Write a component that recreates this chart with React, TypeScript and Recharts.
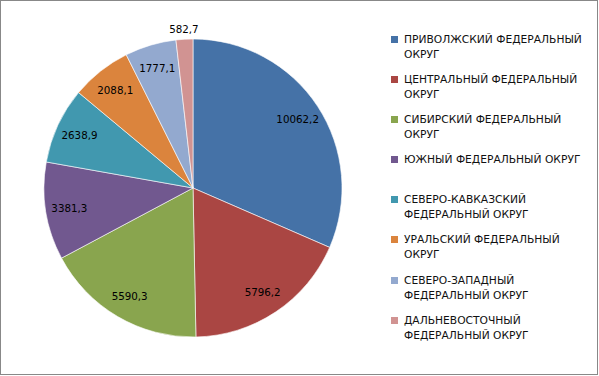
import React from 'react';
import { PieChart, Pie, Cell, Legend } from 'recharts';

const districts = [
  'ПРИВОЛЖСКИЙ ФЕДЕРАЛЬНЫЙ ОКРУГ',
  'ЦЕНТРАЛЬНЫЙ ФЕДЕРАЛЬНЫЙ ОКРУГ',
  'СИБИРСКИЙ ФЕДЕРАЛЬНЫЙ ОКРУГ',
  'ЮЖНЫЙ ФЕДЕРАЛЬНЫЙ ОКРУГ',
  'СЕВЕРО-КАВКАЗСКИЙ ФЕДЕРАЛЬНЫЙ ОКРУГ',
  'УРАЛЬСКИЙ ФЕДЕРАЛЬНЫЙ ОКРУГ',
  'СЕВЕРО-ЗАПАДНЫЙ ФЕДЕРАЛЬНЫЙ ОКРУГ',
  'ДАЛЬНЕВОСТОЧНЫЙ ФЕДЕРАЛЬНЫЙ ОКРУГ',
];
const legendLines = [
  ['ПРИВОЛЖСКИЙ ФЕДЕРАЛЬНЫЙ', 'ОКРУГ'],
  ['ЦЕНТРАЛЬНЫЙ ФЕДЕРАЛЬНЫЙ', 'ОКРУГ'],
  ['СИБИРСКИЙ ФЕДЕРАЛЬНЫЙ', 'ОКРУГ'],
  ['ЮЖНЫЙ ФЕДЕРАЛЬНЫЙ ОКРУГ'],
  ['СЕВЕРО-КАВКАЗСКИЙ', 'ФЕДЕРАЛЬНЫЙ ОКРУГ'],
  ['УРАЛЬСКИЙ ФЕДЕРАЛЬНЫЙ', 'ОКРУГ'],
  ['СЕВЕРО-ЗАПАДНЫЙ', 'ФЕДЕРАЛЬНЫЙ ОКРУГ'],
  ['ДАЛЬНЕВОСТОЧНЫЙ', 'ФЕДЕРАЛЬНЫЙ ОКРУГ'],
];
const values = [10062.2, 5796.2, 5590.3, 3381.3, 2638.9, 2088.1, 1777.1, 582.7];
const colors = ['#4572A7', '#AA4643', '#89A54E', '#71588F', '#4198AF', '#DB843D', '#93A9CF', '#D19392'];

const data = districts.map((name, i) => ({ name, value: values[i] }));

const FONT = '"DejaVu Sans", sans-serif';
const RADIAN = Math.PI / 180;

const renderLabel = (props: any) => {
  const { cx, cy, midAngle, outerRadius, value, index } = props;
  const r = index === values.length - 1 ? outerRadius + 10 : outerRadius * 0.84;
  const x = cx + r * Math.cos(-midAngle * RADIAN);
  const y = cy + r * Math.sin(-midAngle * RADIAN);
  return (
    <text x={x} y={y} textAnchor="middle" dominantBaseline="central" fill="#000" fontSize={10.3} fontFamily={FONT}>
      {Number(value).toFixed(1).replace('.', ',')}
    </text>
  );
};

const renderLegend = () => (
  <div style={{ fontFamily: FONT, fontSize: 10.7, color: '#111' }}>
    {legendLines.map((lines, i) => (
      <div key={i} style={{ position: 'relative', height: 40.1, paddingLeft: 13, lineHeight: '15px' }}>
        <span style={{ position: 'absolute', left: 0, top: 4, width: 7, height: 7, background: colors[i] }} />
        {lines.map((l, j) => (
          <div key={j} style={{ whiteSpace: 'nowrap' }}>{l}</div>
        ))}
      </div>
    ))}
  </div>
);

export default function App() {
  return (
    <div style={{ position: 'absolute', left: 0, top: 0, width: 598, height: 375, boxSizing: 'border-box', border: '1px solid #888', background: '#fff' }}>
      <PieChart width={596} height={373} margin={{ top: 0, right: 0, bottom: 0, left: 0 }}>
        <Pie
          data={data}
          dataKey="value"
          nameKey="name"
          cx={192}
          cy={187}
          outerRadius={149}
          startAngle={90}
          endAngle={-270}
          stroke="#fff"
          strokeWidth={0.6}
          label={renderLabel}
          labelLine={false}
          isAnimationActive={false}
        >
          {data.map((d, i) => (
            <Cell key={d.name} fill={colors[i]} />
          ))}
        </Pie>
        <Legend
          layout="vertical"
          verticalAlign="top"
          align="right"
          content={renderLegend}
          wrapperStyle={{ left: 390, top: 31, width: 205, right: 'auto' }}
        />
      </PieChart>
    </div>
  );
}
